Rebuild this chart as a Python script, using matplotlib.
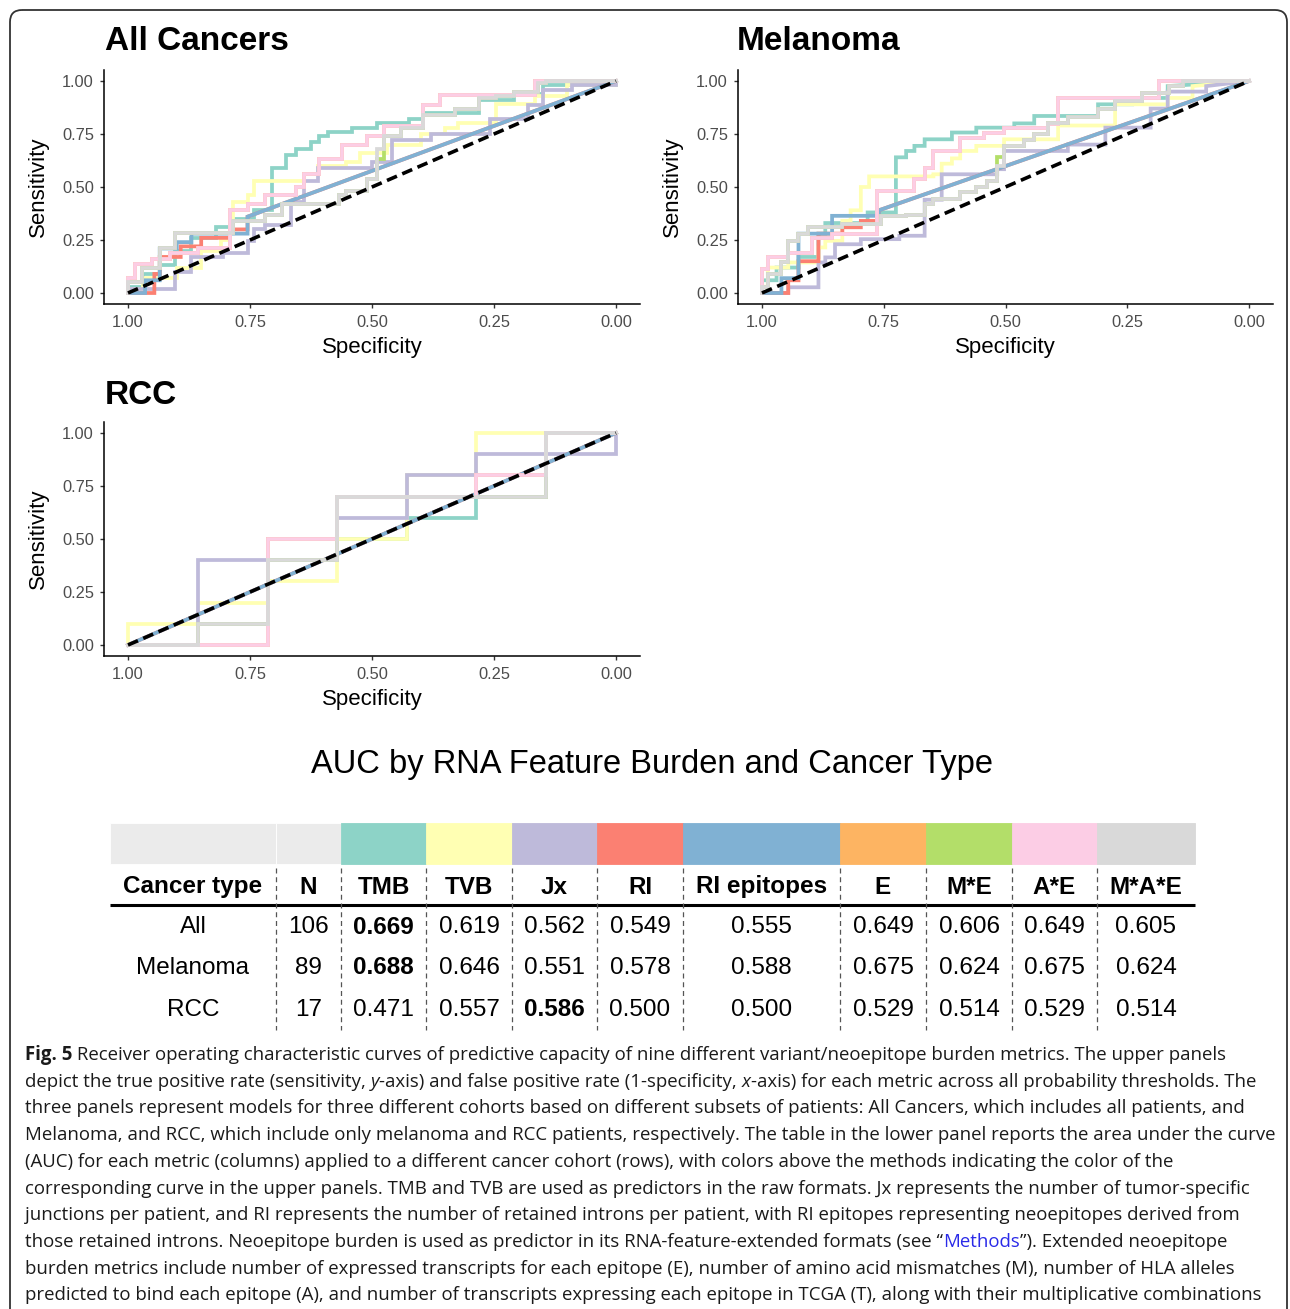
import matplotlib
matplotlib.use("Agg")
import matplotlib.pyplot as plt
from matplotlib.patches import Rectangle, FancyBboxPatch

plt.rcParams['font.family'] = ['Liberation Sans', 'DejaVu Sans']

W, H = 1290, 1309

metrics = ['TMB', 'TVB', 'Jx', 'RI', 'RI epitopes', 'E', 'M*E', 'A*E', 'M*A*E']
colors = ['#8DD3C7', '#FFFFB3', '#BEBADA', '#FB8072', '#80B1D3',
          '#FDB462', '#B3DE69', '#FCCDE5', '#D9D9D9']

# ROC curves: 1 - specificity where sensitivity steps up, and the new sensitivity.
# After the last step the curve runs straight to (spec 0, sens 1).

# --- All Cancers ---
all_tmb_fpr = [0.0, 0.03, 0.065, 0.097, 0.13, 0.18, 0.216, 0.259, 0.295, 0.324, 0.345, 0.374, 0.392, 0.41, 0.46, 0.51, 0.576, 0.604, 0.72, 0.79, 0.85, 1.0]
all_tmb_tpr = [0.03, 0.09, 0.13, 0.2, 0.26, 0.31, 0.35, 0.39, 0.59, 0.65, 0.68, 0.71, 0.74, 0.76, 0.78, 0.80, 0.82, 0.85, 0.91, 0.94, 0.98, 1.0]
all_tvb_fpr = [0.0, 0.03, 0.1, 0.15, 0.19, 0.209, 0.216, 0.245, 0.259, 0.36, 0.39, 0.446, 0.475, 0.53, 0.6, 0.65, 0.676, 0.755, 0.835, 0.9, 1.0]
all_tvb_tpr = [0.02, 0.07, 0.12, 0.2, 0.25, 0.33, 0.43, 0.46, 0.53, 0.56, 0.6, 0.62, 0.66, 0.70, 0.75, 0.78, 0.80, 0.89, 0.93, 0.98, 1.0]
all_jx_fpr = [0.0, 0.097, 0.13, 0.194, 0.245, 0.259, 0.28, 0.334, 0.36, 0.39, 0.50, 0.54, 0.62, 0.741, 0.82, 0.85, 0.91, 1.0]
all_jx_tpr = [0.02, 0.1, 0.17, 0.19, 0.245, 0.3, 0.32, 0.43, 0.53, 0.59, 0.62, 0.72, 0.75, 0.82, 0.886, 0.956, 0.98, 1.0]
all_ri_fpr = [0.0, 0.054, 0.065, 0.108, 0.15, 0.209, 0.245]
all_ri_tpr = [0.0, 0.09, 0.17, 0.22, 0.26, 0.3, 0.36]
all_riep_fpr = [0.0, 0.035, 0.065, 0.1, 0.13, 0.245]
all_riep_tpr = [0.0, 0.06, 0.21, 0.24, 0.28, 0.36]
all_ae_fpr = [0.0, 0.014, 0.05, 0.086, 0.144, 0.209, 0.245, 0.28, 0.345, 0.36, 0.392, 0.439, 0.489, 0.525, 0.604, 0.64, 0.835]
all_ae_tpr = [0.07, 0.136, 0.16, 0.19, 0.21, 0.39, 0.42, 0.46, 0.50, 0.56, 0.63, 0.70, 0.74, 0.79, 0.886, 0.933, 1.0]
all_e_fpr, all_e_tpr = all_ae_fpr, all_ae_tpr
all_mae_fpr = [0.0, 0.029, 0.065, 0.097, 0.216, 0.28, 0.316, 0.432, 0.446, 0.489, 0.51, 0.525, 0.56, 0.604, 0.67, 0.72, 0.755, 0.79, 0.84, 0.856]
all_mae_tpr = [0.05, 0.12, 0.21, 0.285, 0.34, 0.37, 0.42, 0.46, 0.48, 0.54, 0.68, 0.74, 0.78, 0.84, 0.87, 0.92, 0.93, 0.95, 0.99, 1.0]
all_me_fpr = all_mae_fpr
all_me_tpr = [0.05, 0.12, 0.21, 0.285, 0.34, 0.37, 0.42, 0.46, 0.48, 0.54, 0.63, 0.74, 0.78, 0.84, 0.87, 0.92, 0.93, 0.95, 0.99, 1.0]

# --- Melanoma ---
mel_tmb_fpr = [0.0, 0.03, 0.075, 0.116, 0.13, 0.217, 0.275, 0.296, 0.313, 0.334, 0.39, 0.44, 0.518, 0.559, 0.69, 0.76, 0.833]
mel_tmb_tpr = [0.06, 0.12, 0.17, 0.28, 0.33, 0.38, 0.64, 0.67, 0.694, 0.725, 0.757, 0.78, 0.80, 0.835, 0.89, 0.92, 0.976]
mel_tvb_fpr = [0.0, 0.012, 0.054, 0.116, 0.13, 0.165, 0.182, 0.203, 0.22, 0.352, 0.369, 0.39, 0.407, 0.44, 0.497, 0.608, 0.725, 0.833, 0.884]
mel_tvb_tpr = [0.03, 0.12, 0.144, 0.215, 0.246, 0.34, 0.39, 0.5, 0.55, 0.56, 0.61, 0.635, 0.67, 0.694, 0.725, 0.79, 0.89, 0.92, 0.976]
mel_jx_fpr = [0.0, 0.054, 0.116, 0.13, 0.15, 0.203, 0.282, 0.334, 0.369, 0.483, 0.497, 0.628, 0.705, 0.798, 0.833, 0.912]
mel_jx_tpr = [0.0, 0.027, 0.144, 0.168, 0.23, 0.254, 0.27, 0.44, 0.56, 0.584, 0.67, 0.70, 0.78, 0.87, 0.95, 0.976]
mel_ri_fpr = [0.0, 0.054, 0.075, 0.116, 0.165, 0.203, 0.24]
mel_ri_tpr = [0.0, 0.06, 0.15, 0.28, 0.31, 0.34, 0.39]
mel_riep_fpr = [0.0, 0.04, 0.075, 0.144, 0.24]
mel_riep_tpr = [0.0, 0.07, 0.28, 0.364, 0.39]
mel_ae_fpr = [0.0, 0.012, 0.054, 0.102, 0.144, 0.237, 0.313, 0.334, 0.352, 0.407, 0.455, 0.497, 0.587, 0.608, 0.815]
mel_ae_tpr = [0.113, 0.168, 0.19, 0.26, 0.28, 0.48, 0.54, 0.59, 0.67, 0.733, 0.757, 0.78, 0.795, 0.92, 1.0]
mel_e_fpr, mel_e_tpr = mel_ae_fpr, mel_ae_tpr
mel_mae_fpr = [0.0, 0.012, 0.04, 0.054, 0.075, 0.095, 0.165, 0.244, 0.296, 0.334, 0.352, 0.407, 0.44, 0.462, 0.483, 0.497, 0.538, 0.559, 0.587, 0.628, 0.69, 0.725, 0.78, 0.836, 0.864]
mel_mae_tpr = [0.03, 0.09, 0.144, 0.246, 0.278, 0.31, 0.325, 0.364, 0.37, 0.42, 0.445, 0.475, 0.5, 0.53, 0.6, 0.694, 0.72, 0.75, 0.8, 0.83, 0.87, 0.905, 0.945, 0.976, 1.0]
mel_me_fpr = mel_mae_fpr
mel_me_tpr = [0.03, 0.09, 0.144, 0.246, 0.278, 0.31, 0.325, 0.364, 0.37, 0.42, 0.445, 0.475, 0.5, 0.53, 0.64, 0.694, 0.72, 0.75, 0.8, 0.83, 0.87, 0.905, 0.945, 0.976, 1.0]

# --- RCC (7 negatives, 10 positives) ---
rcc_tmb_fpr = [0.143, 0.286, 0.429, 0.571, 0.714, 0.857]
rcc_tmb_tpr = [0.1, 0.4, 0.5, 0.6, 0.7, 1.0]
rcc_tvb_fpr = [0.0, 0.143, 0.286, 0.429, 0.571, 0.714]
rcc_tvb_tpr = [0.1, 0.2, 0.3, 0.5, 0.8, 1.0]
rcc_jx_fpr = [0.143, 0.286, 0.429, 0.571, 0.714, 1.0]
rcc_jx_tpr = [0.4, 0.5, 0.6, 0.8, 0.9, 1.0]
rcc_ri_fpr, rcc_ri_tpr = [], []
rcc_riep_fpr, rcc_riep_tpr = [], []
rcc_ae_fpr = [0.286, 0.429, 0.714, 0.857]
rcc_ae_tpr = [0.5, 0.7, 0.8, 1.0]
rcc_e_fpr, rcc_e_tpr = rcc_ae_fpr, rcc_ae_tpr
rcc_mae_fpr = [0.143, 0.286, 0.429, 0.857]
rcc_mae_tpr = [0.1, 0.4, 0.7, 1.0]
rcc_me_fpr, rcc_me_tpr = rcc_mae_fpr, rcc_mae_tpr

# --- AUC table ---
cancer_types = ['All', 'Melanoma', 'RCC']
n_patients = [106, 89, 17]
auc_all = [0.669, 0.619, 0.562, 0.549, 0.555, 0.649, 0.606, 0.649, 0.605]
auc_melanoma = [0.688, 0.646, 0.551, 0.578, 0.588, 0.675, 0.624, 0.675, 0.624]
auc_rcc = [0.471, 0.557, 0.586, 0.500, 0.500, 0.529, 0.514, 0.529, 0.514]

panels = [
    ('All Cancers', [(all_tmb_fpr, all_tmb_tpr), (all_tvb_fpr, all_tvb_tpr), (all_jx_fpr, all_jx_tpr),
                     (all_ri_fpr, all_ri_tpr), (all_riep_fpr, all_riep_tpr), (all_e_fpr, all_e_tpr),
                     (all_me_fpr, all_me_tpr), (all_ae_fpr, all_ae_tpr), (all_mae_fpr, all_mae_tpr)]),
    ('Melanoma', [(mel_tmb_fpr, mel_tmb_tpr), (mel_tvb_fpr, mel_tvb_tpr), (mel_jx_fpr, mel_jx_tpr),
                  (mel_ri_fpr, mel_ri_tpr), (mel_riep_fpr, mel_riep_tpr), (mel_e_fpr, mel_e_tpr),
                  (mel_me_fpr, mel_me_tpr), (mel_ae_fpr, mel_ae_tpr), (mel_mae_fpr, mel_mae_tpr)]),
    ('RCC', [(rcc_tmb_fpr, rcc_tmb_tpr), (rcc_tvb_fpr, rcc_tvb_tpr), (rcc_jx_fpr, rcc_jx_tpr),
             (rcc_ri_fpr, rcc_ri_tpr), (rcc_riep_fpr, rcc_riep_tpr), (rcc_e_fpr, rcc_e_tpr),
             (rcc_me_fpr, rcc_me_tpr), (rcc_ae_fpr, rcc_ae_tpr), (rcc_mae_fpr, rcc_mae_tpr)]),
]

NORMAL = {}
BOLD = {'fontweight': 'bold'}
ITAL = {'fontstyle': 'italic'}
LINK = {'color': '#2A2AE8'}
caption = [
    [('Fig. 5', BOLD), (' Receiver operating characteristic curves of predictive capacity of nine different variant/neoepitope burden metrics. The upper panels', NORMAL)],
    [('depict the true positive rate (sensitivity, ', NORMAL), ('y', ITAL), ('-axis) and false positive rate (1-specificity, ', NORMAL), ('x', ITAL), ('-axis) for each metric across all probability thresholds. The', NORMAL)],
    [('three panels represent models for three different cohorts based on different subsets of patients: All Cancers, which includes all patients, and', NORMAL)],
    [('Melanoma, and RCC, which include only melanoma and RCC patients, respectively. The table in the lower panel reports the area under the curve', NORMAL)],
    [('(AUC) for each metric (columns) applied to a different cancer cohort (rows), with colors above the methods indicating the color of the', NORMAL)],
    [('corresponding curve in the upper panels. TMB and TVB are used as predictors in the raw formats. Jx represents the number of tumor-specific', NORMAL)],
    [('junctions per patient, and RI represents the number of retained introns per patient, with RI epitopes representing neoepitopes derived from', NORMAL)],
    [('those retained introns. Neoepitope burden is used as predictor in its RNA-feature-extended formats (see \u201c', NORMAL), ('Methods', LINK), ('\u201d). Extended neoepitope', NORMAL)],
    [('burden metrics include number of expressed transcripts for each epitope (E), number of amino acid mismatches (M), number of HLA alleles', NORMAL)],
    [('predicted to bind each epitope (A), and number of transcripts expressing each epitope in TCGA (T), along with their multiplicative combinations', NORMAL)],
]


def roc_path(fpr, tpr):
    xs, ys = [0.0], [0.0]
    for f, t in zip(fpr, tpr):
        xs += [f, f]
        ys += [ys[-1], t]
    xs.append(1.0)
    ys.append(1.0)
    return [1 - x for x in xs], ys


fig = plt.figure(figsize=(W / 100, H / 100), dpi=100)


def px_axes(left, top, right, bottom):
    return fig.add_axes([left / W, 1 - bottom / H, (right - left) / W, (bottom - top) / H])


ov = fig.add_axes([0, 0, 1, 1])
ov.set_xlim(0, W)
ov.set_ylim(H, 0)
ov.axis('off')

panel_boxes = [(103.6, 70.4, 640.4, 303.6), (737.6, 70.4, 1273.4, 303.6), (103.6, 422.4, 640.4, 655.6)]
title_pos = [(105, 40), (737, 40), (105, 393)]

for (title, curves), box, tpos in zip(panels, panel_boxes, title_pos):
    ax = px_axes(*box)
    for (fpr, tpr), col in zip(curves, colors):
        sx, sy = roc_path(fpr, tpr)
        ax.plot(sx, sy, color=col, lw=2.7, solid_joinstyle='miter', clip_on=False)
    ax.plot([1, 0], [0, 1], color='black', lw=2.6, ls=(0, (3.0, 1.6)))
    ax.set_xlim(1.05, -0.05)
    ax.set_ylim(-0.05, 1.05)
    ticks = [1.0, 0.75, 0.5, 0.25, 0.0]
    ax.set_xticks(ticks)
    ax.set_yticks(ticks)
    ax.set_xticklabels([f'{t:.2f}' for t in ticks])
    ax.set_yticklabels([f'{t:.2f}' for t in ticks])
    for s in ['top', 'right']:
        ax.spines[s].set_visible(False)
    for s in ['left', 'bottom']:
        ax.spines[s].set_linewidth(1.1)
    ax.tick_params(length=3, width=1.0, color='#333333', labelcolor='#4D4D4D', labelsize=11.8)
    ax.tick_params(axis='x', pad=5)
    ax.tick_params(axis='y', pad=4)
    ax.set_xlabel('Specificity', fontsize=16, labelpad=5)
    ax.set_ylabel('Sensitivity', fontsize=16, labelpad=9)
    ov.text(tpos[0], tpos[1] + 2, title, fontsize=24, fontweight='bold', ha='left', va='center')

# table
ov.text(652, 764, 'AUC by RNA Feature Burden and Cancer Type', fontsize=23.5, ha='center', va='center')
edges = [110, 276, 341, 426, 512, 597, 683, 840, 926, 1012, 1097, 1195]
strip_colors = ['#EBEBEB', '#EBEBEB'] + colors
for i, col in enumerate(strip_colors):
    ov.add_patch(Rectangle((edges[i], 823), edges[i + 1] - edges[i], 41, facecolor=col,
                           edgecolor='white' if i < 2 else col, lw=0.6))
header = ['Cancer type', 'N'] + metrics
centers = [(edges[i] + edges[i + 1]) / 2 for i in range(len(edges) - 1)]
for c, h in zip(centers, header):
    ov.text(c, 887, h, fontsize=17.5, fontweight='bold', ha='center', va='center')
ov.plot([edges[0], edges[-1]], [905, 905], color='black', lw=2.2, solid_capstyle='butt')
for x in edges[1:-1]:
    ov.plot([x, x], [868, 1030], color='#555555', lw=0.9, ls=(0, (4, 3)))
row_y = [927, 968, 1010]
for y, name, n, aucs in zip(row_y, cancer_types, n_patients, [auc_all, auc_melanoma, auc_rcc]):
    ov.text(centers[0], y, name, fontsize=17.5, ha='center', va='center')
    ov.text(centers[1], y, str(n), fontsize=17.5, ha='center', va='center')
    best = max(aucs)
    for c, v in zip(centers[2:], aucs):
        ov.text(c, y, f'{v:.3f}', fontsize=17.5, ha='center', va='center',
                fontweight='bold' if v == best else 'normal')

# caption
renderer = fig.canvas.get_renderer()
cap_y = 1055
for parts in caption:
    x = 25
    for text, style in parts:
        t = ov.text(x, cap_y, text, fontsize=13.4, family=['Open Sans', 'DejaVu Sans'],
                    ha='left', va='center', color=style.get('color', '#1A1A1A'),
                    fontweight=style.get('fontweight', 'normal'),
                    fontstyle=style.get('fontstyle', 'normal'))
        x += t.get_window_extent(renderer).width
    cap_y += 26.7

ov.add_patch(FancyBboxPatch((10, 10), 1277, 1360, boxstyle='round,pad=0,rounding_size=12',
                            fill=False, lw=1.3, ec='#333333', clip_on=False))

fig.savefig('out.png', dpi=100)
